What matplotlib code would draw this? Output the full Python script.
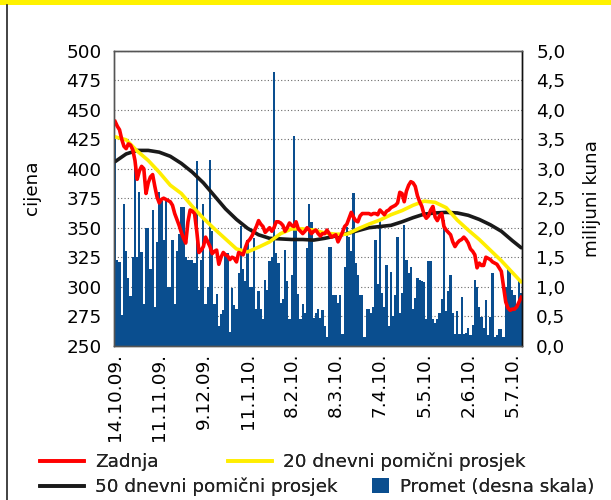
#! /usr/bin/env python3

import matplotlib
matplotlib.use('Agg')
import matplotlib.pyplot as plt
from matplotlib.lines import Line2D
from matplotlib.patches import Rectangle, Patch

# daily turnover, million kuna (right scale)
promet = [3.5, 1.45, 1.42, 0.52, 2.4, 1.6, 1.15, 0.85, 1.5, 3.1,
          1.5, 2.6, 1.58, 0.7, 2.0, 2.0, 1.3, 2.3, 0.65, 1.75,
          2.6, 2.45, 1.8, 2.5, 1.0, 1.0, 1.8, 0.7, 1.6, 1.9,
          2.35, 2.35, 1.5, 1.45, 1.45, 1.45, 1.4, 3.13, 0.95, 1.45,
          2.4, 0.7, 1.0, 3.14, 1.95, 0.7, 0.87, 0.34, 0.53, 0.6,
          1.57, 1.57, 0.24, 0.97, 0.69, 0.63, 1.23, 2.03, 1.3, 1.1,
          1.8, 1.0, 1.0, 1.82, 0.63, 0.92, 0.63, 0.46, 1.12, 0.94,
          1.43, 1.5, 4.64, 1.57, 1.4, 0.73, 0.8, 1.63, 1.09, 0.45,
          1.2, 3.55, 2.1, 0.87, 0.45, 0.7, 0.56, 1.66, 2.4, 2.1,
          0.47, 0.56, 0.62, 0.47, 0.6, 0.33, 0.15, 1.68, 1.68, 0.86,
          0.86, 0.72, 0.86, 0.2, 1.34, 2.02, 1.85, 1.6, 2.59, 1.4,
          1.2, 0.86, 0.86, 0.15, 0.62, 0.62, 0.55, 0.65, 1.8, 1.05,
          2.13, 0.9, 0.65, 1.36, 0.33, 1.25, 0.5, 0.86, 1.85, 0.55,
          0.9, 2.05, 1.45, 1.23, 1.34, 0.62, 0.81, 1.15, 1.12, 1.1,
          1.08, 0.45, 1.43, 1.43, 0.45, 0.38, 0.45, 0.55, 0.8, 2.13,
          0.58, 0.93, 1.2, 0.55, 0.2, 0.58, 0.2, 0.82, 0.2, 0.22,
          0.3, 0.18, 0.35, 1.12, 1.0, 0.65, 0.48, 0.3, 0.78, 0.18,
          0.48, 1.23, 0.15, 0.18, 0.28, 0.28, 0.15, 1.0, 1.34, 1.28,
          0.95, 0.86, 0.65, 1.1, 0.9]

# closing price (left scale)
zadnja = [440, 436, 433, 425, 419, 417, 421, 420, 416, 407,
          391, 398, 402, 400, 379, 388, 393, 395, 385, 376,
          371, 374, 375, 374, 373, 372, 369, 362, 357, 352,
          346, 341, 337, 355, 365, 364, 362, 347, 329, 331,
          334, 342, 338, 334, 328, 330, 331, 319, 325, 329,
          327, 326, 323, 325, 324, 321, 329, 328, 327, 333,
          338, 340, 343, 347, 351, 356, 353, 351, 346, 348,
          350, 347, 350, 355, 355, 354, 352, 347, 350, 354,
          352, 351, 355, 349, 347, 345, 347, 350, 348, 345,
          347, 348, 345, 343, 345, 345, 348, 345, 342, 343,
          344, 338, 342, 346, 351, 353, 358, 363, 359, 356,
          355, 360, 362, 362, 362, 362, 361, 362, 362, 361,
          365, 363, 361, 364, 365, 367, 368, 369, 371, 380,
          379, 372, 381, 386, 389, 388, 385, 377, 372, 368,
          361, 358, 360, 365, 368, 359, 356, 360, 362, 351,
          348, 346, 344, 338, 334, 337, 339, 340, 342, 340,
          337, 332, 330, 327, 316, 320, 318, 318, 325, 324,
          323, 321, 320, 319, 316, 313, 300, 287, 282, 280,
          281, 281, 283, 287, 291]

# moving averages, read every 5th trading day
ma_dani = [0, 5, 10, 15, 20, 25, 30, 35, 40, 45, 50, 55, 60, 65, 70, 75, 80, 85, 90,
           95, 100, 105, 110, 115, 120, 125, 130, 135, 140, 145, 150, 155, 160, 165,
           170, 175, 180, 184]
ma20 = [427, 424.5, 415, 407, 397, 386, 379, 368, 358, 349, 340.5, 332, 329.5, 333.5,
        338, 345, 349, 349, 348, 345.5, 344.5, 344.5, 349, 353, 356.5, 361, 364.5, 369,
        372.5, 371.5, 367, 356.5, 348, 340, 331, 322, 312, 304]
ma50 = [406, 412.5, 415.5, 415.5, 414, 410.5, 404.5, 397, 388, 377, 366, 357, 349.5,
        344, 341, 340.5, 340, 340, 339.5, 341, 343, 345, 347.5, 350, 351, 352, 355,
        358.5, 361.5, 362.5, 363, 362.5, 360.5, 357, 352.5, 347, 339, 333]

datumi = ['14.10.09.', '11.11.09.', '9.12.09.', '11.1.10.', '8.2.10.',
          '8.3.10.', '7.4.10.', '5.5.10.', '2.6.10.', '5.7.10.']
datum_dani = [0, 20, 40, 60, 80, 100, 120, 140, 160, 180]
cijena_ticks = [250, 275, 300, 325, 350, 375, 400, 425, 450, 475, 500]
promet_ticks = [0.0, 0.5, 1.0, 1.5, 2.0, 2.5, 3.0, 3.5, 4.0, 4.5, 5.0]
promet_labels = ['0,0', '0,5', '1,0', '1,5', '2,0', '2,5', '3,0', '3,5', '4,0', '4,5', '5,0']

plt.rcParams['font.family'] = ['DejaVu Sans']
plt.rcParams['font.size'] = 13.2
plt.rcParams['text.color'] = '#222222'

fig = plt.figure(figsize=(6.11, 5.0), dpi=100)

# top banner and left frame line
fig.add_artist(Rectangle((0, 1 - 5 / 500), 1, 5 / 500, transform=fig.transFigure,
                         facecolor='#fff200', edgecolor='none'))
fig.add_artist(Line2D([7 / 611, 7 / 611], [0, 1 - 5 / 500], transform=fig.transFigure,
                      color='#222222', lw=1.2))

ax = fig.add_axes([114 / 611, 1 - 345.7 / 500, 408.3 / 611, 295 / 500])
ax2 = ax.twinx()
ax.set_zorder(2)
ax2.set_zorder(1)
ax.patch.set_visible(False)

bar_color = '#0a4e8f'
dani = list(range(len(promet)))
ax2.bar(dani, promet, width=1.0, color=bar_color, linewidth=0)

ax.plot(ma_dani, ma50, color='#1a1a1a', lw=2.6, solid_capstyle='round')
ax.plot(ma_dani, ma20, color='#ffee00', lw=2.6, solid_capstyle='round')
ax.plot(dani, zadnja, color='#ff0000', lw=2.6, solid_joinstyle='round')

ax.set_xlim(-0.5, len(promet) - 0.5)
ax.set_ylim(250, 500)
ax2.set_ylim(0, 5)

ax.set_yticks(cijena_ticks)
ax.set_yticklabels([str(v) for v in cijena_ticks])
ax2.set_yticks(promet_ticks)
ax2.set_yticklabels(promet_labels)
ax.set_xticks(datum_dani)
ax.set_xticklabels(datumi, rotation=90, va='top', ha='center')

ax.tick_params(axis='y', length=0, pad=9)
ax2.tick_params(axis='y', length=0, pad=10)
ax.tick_params(axis='x', length=0, pad=5)

# dotted grid behind the bars
ax2.set_axisbelow(True)
ax2.grid(True, axis='both', color='#6a6a6a', linestyle=(0, (1, 2)), lw=0.8)
ax2.set_xticks(datum_dani)
ax2.tick_params(axis='x', length=0, labelbottom=False)

for a in (ax, ax2):
    for s in a.spines.values():
        s.set_color('#555555')
        s.set_linewidth(1.0)
ax.spines['right'].set_color('#111111')
ax2.spines['right'].set_color('#111111')

ax.set_ylabel('cijena')
ax.yaxis.set_label_coords(-0.18, 0.535)
ax2.set_ylabel('milijuni kuna')
ax2.yaxis.set_label_coords(1.148, 0.5)

# legend entries placed in two rows
leg_kw = dict(frameon=False, borderpad=0, borderaxespad=0, handletextpad=0.6,
              loc='center left', fontsize=13.2)
legs = [
    ([Line2D([], [], color='#ff0000', lw=2.6)], ['Zadnja'], 40, 462, 2.4),
    ([Line2D([], [], color='#ffee00', lw=2.6)], ['20 dnevni pomični prosjek'], 228, 462, 2.4),
    ([Line2D([], [], color='#1a1a1a', lw=2.6)], ['50 dnevni pomični prosjek'], 40, 487, 2.4),
    ([Patch(facecolor=bar_color)], ['Promet (desna skala)'], 372, 487, 0.9),
]
for handles, labels, x, y, hl in legs:
    lg = fig.legend(handles, labels, bbox_to_anchor=(x / 611, 1 - y / 500),
                    handlelength=hl, handleheight=0.9 if hl < 1 else 0.7, **leg_kw)
    fig.add_artist(lg)

fig.savefig('out.png', dpi=100)
plt.close('all')
